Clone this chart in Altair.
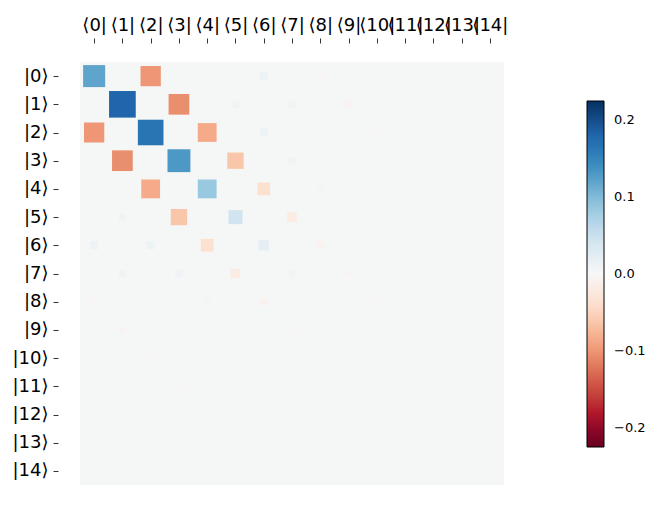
import json
import altair as alt
import numpy as np
import pandas as pd

N = 15
bra_labels = ["⟨%d|" % i for i in range(N)]
ket_labels = ["|%d⟩" % i for i in range(N)]

# symmetric matrix bands (value at (r, r+k) == (r+k, r))
diag = [0.12, 0.18, 0.165, 0.13, 0.085, 0.045, 0.022, 0.008, 0.004, 0.002,
        0.001, 0.0005, 0.0003, 0.0002, 0.0001]
off2 = [-0.10, -0.105, -0.085, -0.063, -0.036, -0.019, -0.009, -0.005,
        -0.003, -0.0015, -0.001, -0.0006, -0.0003]
off4 = [0.004, 0.009, 0.012, 0.010, 0.006, 0.003, 0.002, 0.001, 0.0008,
        0.0005, 0.0003]
off6 = [0.013, 0.009, 0.003, 0.002, 0.001, 0.0008, 0.0005, 0.0005, 0.0002]
off8 = [-0.005, -0.006, -0.004, -0.003, -0.001, -0.0007, -0.0003]

W = np.zeros((N, N))
for k, band in [(0, diag), (2, off2), (4, off4), (6, off6), (8, off8)]:
    for i, v in enumerate(band):
        W[i, i + k] = v
        W[i + k, i] = v

records = []
for r in range(N):
    for c in range(N):
        if W[r, c] != 0:
            records.append({"row": r, "col": c, "w": float(W[r, c])})
df = pd.DataFrame(records)

wmax = float(1.25 * np.abs(W).max())
rdbu = ['#67001f', '#b2182b', '#d6604d', '#f4a582', '#fddbc7', '#f7f7f7',
        '#d1e5f0', '#92c5de', '#4393c3', '#2166ac', '#053061']
cdomain = [float(v) for v in np.linspace(-wmax, wmax, len(rdbu))]
cscale = alt.Scale(domain=cdomain, range=rdbu, clamp=True)

FONT = "DejaVu Sans"
EDGE = 0.025  # half of the drawn edge line width, in cell units

x_axis = alt.Axis(
    orient="top", values=[i + 0.5 for i in range(N)],
    labelExpr=json.dumps(bra_labels, ensure_ascii=False) + "[floor(datum.value)]",
    domain=False, grid=False, tickSize=5, tickColor="black", tickWidth=0.8,
    labelFont=FONT, labelFontSize=18, labelColor="black", labelOverlap=False,
    labelPadding=4, labelBound=False, labelFlush=False, offset=19, title=None,
)
y_axis = alt.Axis(
    orient="left", values=[i + 0.5 for i in range(N)],
    labelExpr=json.dumps(ket_labels, ensure_ascii=False) + "[floor(datum.value)]",
    domain=False, grid=False, tickSize=5, tickColor="black", tickWidth=0.8,
    labelFont=FONT, labelFontSize=18, labelColor="black", labelOverlap=False,
    labelPadding=5, labelBound=False, labelFlush=False, offset=22, title=None,
)

chart = alt.Chart(df).transform_calculate(
    h=f"sqrt(min(1, abs(datum.w) / {wmax})) / 2 + {EDGE}"
).transform_calculate(
    x1="datum.col + 0.5 - datum.h",
    x2="datum.col + 0.5 + datum.h",
    y1="datum.row + 0.5 - datum.h",
    y2="datum.row + 0.5 + datum.h",
).mark_rect().encode(
    x=alt.X("x1:Q", scale=alt.Scale(domain=[0, N], nice=False, zero=False), axis=x_axis),
    x2="x2:Q",
    y=alt.Y("y1:Q", scale=alt.Scale(domain=[0, N], nice=False, zero=False, reverse=True), axis=y_axis),
    y2="y2:Q",
    color=alt.Color("w:Q", scale=cscale, legend=alt.Legend(
        type="gradient",
        orient="none", legendX=507, legendY=39, direction="vertical",
        gradientLength=346, gradientThickness=17, gradientStrokeColor="black",
        gradientStrokeWidth=1, values=[0.2, 0.1, 0.0, -0.1, -0.2],
        labelExpr="replace(format(datum.value, '.1f'), '-', '\u2212')",
        labelFont=FONT, labelFontSize=13, labelColor="black", labelOffset=10,
        title=None, padding=0,
    )),
).properties(
    width=424, height=423,
    autosize=alt.AutoSizeParams(type="none"),
    padding={"left": 80, "top": 62, "right": 152, "bottom": 29},
).configure_view(fill="#f5f6f6", stroke=None)

chart.save("out.html", embed_options={"renderer": "svg", "actions": False})
